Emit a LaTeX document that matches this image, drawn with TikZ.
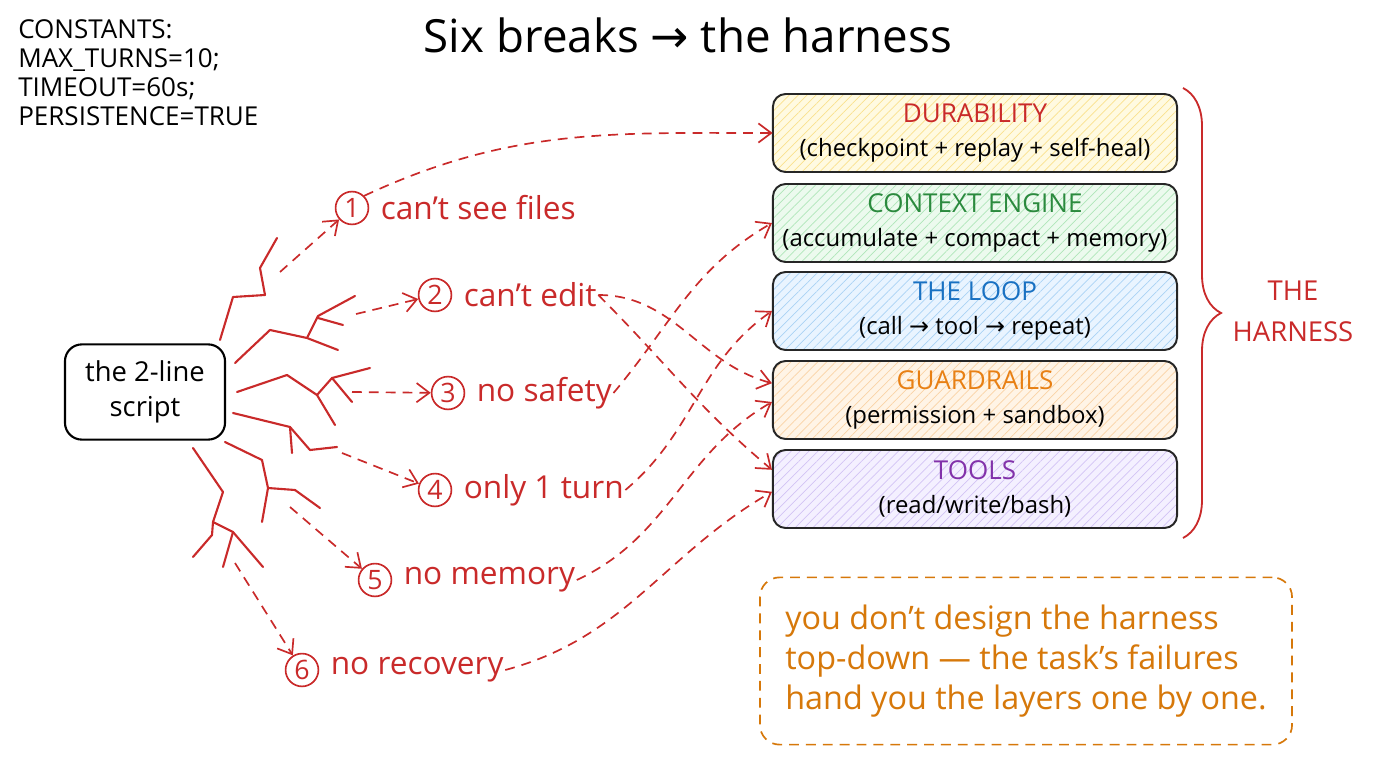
\documentclass[tikz,border=0pt]{standalone}
\usepackage{fontspec}
\setmainfont{Open Sans}
\newfontfamily\arrowfont{DejaVu Sans}
\usetikzlibrary{arrows.meta,positioning,patterns.meta,decorations.pathreplacing}

\definecolor{crackred}{RGB}{201,42,42}
\definecolor{durred}{RGB}{201,42,42}
\definecolor{ctxgreen}{RGB}{43,138,62}
\definecolor{loopblue}{RGB}{25,113,194}
\definecolor{guardorange}{RGB}{232,128,20}
\definecolor{toolpurple}{RGB}{130,50,170}
\definecolor{noteorange}{RGB}{214,120,10}
\definecolor{durfill}{RGB}{255,250,225}
\definecolor{durhatch}{RGB}{250,225,140}
\definecolor{ctxfill}{RGB}{236,250,238}
\definecolor{ctxhatch}{RGB}{175,230,185}
\definecolor{loopfill}{RGB}{233,244,255}
\definecolor{loophatch}{RGB}{170,210,245}
\definecolor{guardfill}{RGB}{255,244,230}
\definecolor{guardhatch}{RGB}{250,210,165}
\definecolor{toolfill}{RGB}{244,240,255}
\definecolor{toolhatch}{RGB}{210,195,245}

\newcommand{\rarr}{{\arrowfont →}}
\newcommand{\layertitle}{\fontsize{18.5}{24}\selectfont}

\begin{document}
\begin{tikzpicture}[x=0.025cm,y=-0.025cm,
    crack/.style={crackred, line width=1.5pt, line join=round, line cap=round},
    flow/.style={crackred, line width=1.2pt, dash pattern=on 7pt off 5pt,
      -{Straight Barb[length=3.2mm,width=4.8mm]}},
    num/.style={circle, draw=crackred, line width=1.2pt, text=crackred,
      minimum size=0.82cm, inner sep=0pt, font=\fontsize{19}{22}\selectfont},
    brk/.style={text=crackred, inner sep=1pt, font=\fontsize{22.5}{26}\selectfont},
    layer/.style 2 args={draw=black!85, line width=1.4pt, rounded corners=9pt,
      minimum width=10.1cm, minimum height=1.95cm, align=center,
      font=\fontsize{17}{24}\selectfont, preaction={fill=#1},
      pattern={Lines[angle=45,distance=4.5pt,line width=0.5pt]}, pattern color=#2}
  ]
    \useasboundingbox (0,0) rectangle (1376,768);

    % title and constants
    \node[font=\fontsize{32.5}{36}\selectfont] (title) at (688,35) {Six breaks \rarr{} the harness};
    \node[anchor=north west, align=left, inner sep=0pt,
      font=\fontsize{18.5}{20.6}\selectfont] (consts) at (18,19)
      {CONSTANTS:\\MAX\_TURNS=10;\\TIMEOUT=60s;\\PERSISTENCE=TRUE};

    % the script and its cracks
    \node[draw, line width=1.5pt, rounded corners=12pt, minimum width=4cm,
      minimum height=2.38cm, align=center, font=\fontsize{19.5}{25}\selectfont]
      (script) at (145,392) {the 2-line\\script};

    \draw[crack] (220,340) -- (233,297) -- (265,295) -- (260,268) -- (277,238);
    \draw[crack] (235,363) -- (270,330) -- (307,338) -- (338,350);
    \draw[crack] (307,338) -- (318,316) -- (355,296);
    \draw[crack] (318,318) -- (343,325);
    \draw[crack] (237,392) -- (287,375) -- (317,395) -- (335,425);
    \draw[crack] (317,395) -- (332,378) -- (370,368);
    \draw[crack] (332,378) -- (352,402);
    \draw[crack] (233,413) -- (290,427) -- (310,450) -- (337,447);
    \draw[crack] (290,427) -- (292,453);
    \draw[crack] (225,442) -- (262,460) -- (268,488) -- (295,490) -- (320,508);
    \draw[crack] (268,488) -- (262,522);
    \draw[crack] (193,448) -- (223,492) -- (213,522) -- (233,532) -- (263,567);
    \draw[crack] (213,522) -- (212,535) -- (193,557);
    \draw[crack] (233,532) -- (223,567);

    \coordinate (k1) at (280,272);
    \coordinate (k2) at (356,314);
    \coordinate (k3) at (352,392);
    \coordinate (k4) at (342,453);
    \coordinate (k5) at (290,507);
    \coordinate (k6) at (235,563);

    % the six breaks
    \node[num] (c1) at (352,208) {1};
    \node[brk, right=7pt of c1] (t1) {can't see files};
    \node[num] (c2) at (435,295) {2};
    \node[brk, right=7pt of c2] (t2) {can't edit};
    \node[num] (c3) at (448,393) {3};
    \node[brk, right=7pt of c3] (t3) {no safety};
    \node[num] (c4) at (435,490) {4};
    \node[brk, right=7pt of c4] (t4) {only 1 turn};
    \node[num] (c5) at (375,580) {5};
    \node[brk, right=7pt of c5] (t5) {no memory};
    \node[num] (c6) at (302,670) {6};
    \node[brk, right=7pt of c6] (t6) {no recovery};

    \foreach \i in {1,...,6} {
      \draw[flow] (k\i) -- (c\i);
    }

    % the layers
    \node[layer={durfill}{durhatch}] (dur) at (975,133)
      {{\layertitle\color{durred}DURABILITY}\\(checkpoint + replay + self-heal)};
    \node[layer={ctxfill}{ctxhatch}] (ctx) at (975,223)
      {{\layertitle\color{ctxgreen}CONTEXT ENGINE}\\(accumulate + compact + memory)};
    \node[layer={loopfill}{loophatch}] (loop) at (975,311)
      {{\layertitle\color{loopblue}THE LOOP}\\(call \rarr{} tool \rarr{} repeat)};
    \node[layer={guardfill}{guardhatch}] (guard) at (975,400)
      {{\layertitle\color{guardorange}GUARDRAILS}\\(permission + sandbox)};
    \node[layer={toolfill}{toolhatch}] (tools) at (975,489)
      {{\layertitle\color{toolpurple}TOOLS}\\(read/write/bash)};

    % which break asks for which layer
    \draw[flow] (c1.north east) to[out=25,in=180] (dur.west);
    \draw[flow] (t2.east) to[out=0,in=165] ([yshift=0.42cm]guard.west);
    \draw[flow] (t2.east) to[out=-45,in=140] ([yshift=0.48cm]tools.west);
    \draw[flow] (t3.east) to[out=50,in=210] (ctx.west);
    \draw[flow] (t4.east) to[out=40,in=215] (loop.west);
    \draw[flow] (t5.east) to[out=25,in=210] ([yshift=-0.05cm]guard.west);
    \draw[flow] (t6.east) to[out=15,in=210] ([yshift=-0.07cm]tools.west);

    % brace
    \draw[crackred, line width=1.3pt, decorate,
      decoration={brace, amplitude=0.95cm, aspect=0.5}] (1183,88) -- (1183,538);
    \node[text=crackred, align=center, font=\fontsize{19.5}{29}\selectfont]
      (harness) at (1293,311) {THE\\HARNESS};

    % takeaway
    \node[draw=noteorange, line width=1.2pt, dash pattern=on 7pt off 5pt,
      rounded corners=14pt, minimum width=13.3cm, minimum height=4.18cm,
      align=left, text=noteorange, font=\fontsize{23}{28.5}\selectfont]
      (note) at (1026,661)
      {you don't design the harness\\top-down --- the task's failures\\hand you the layers one by one.};
\end{tikzpicture}
\end{document}
